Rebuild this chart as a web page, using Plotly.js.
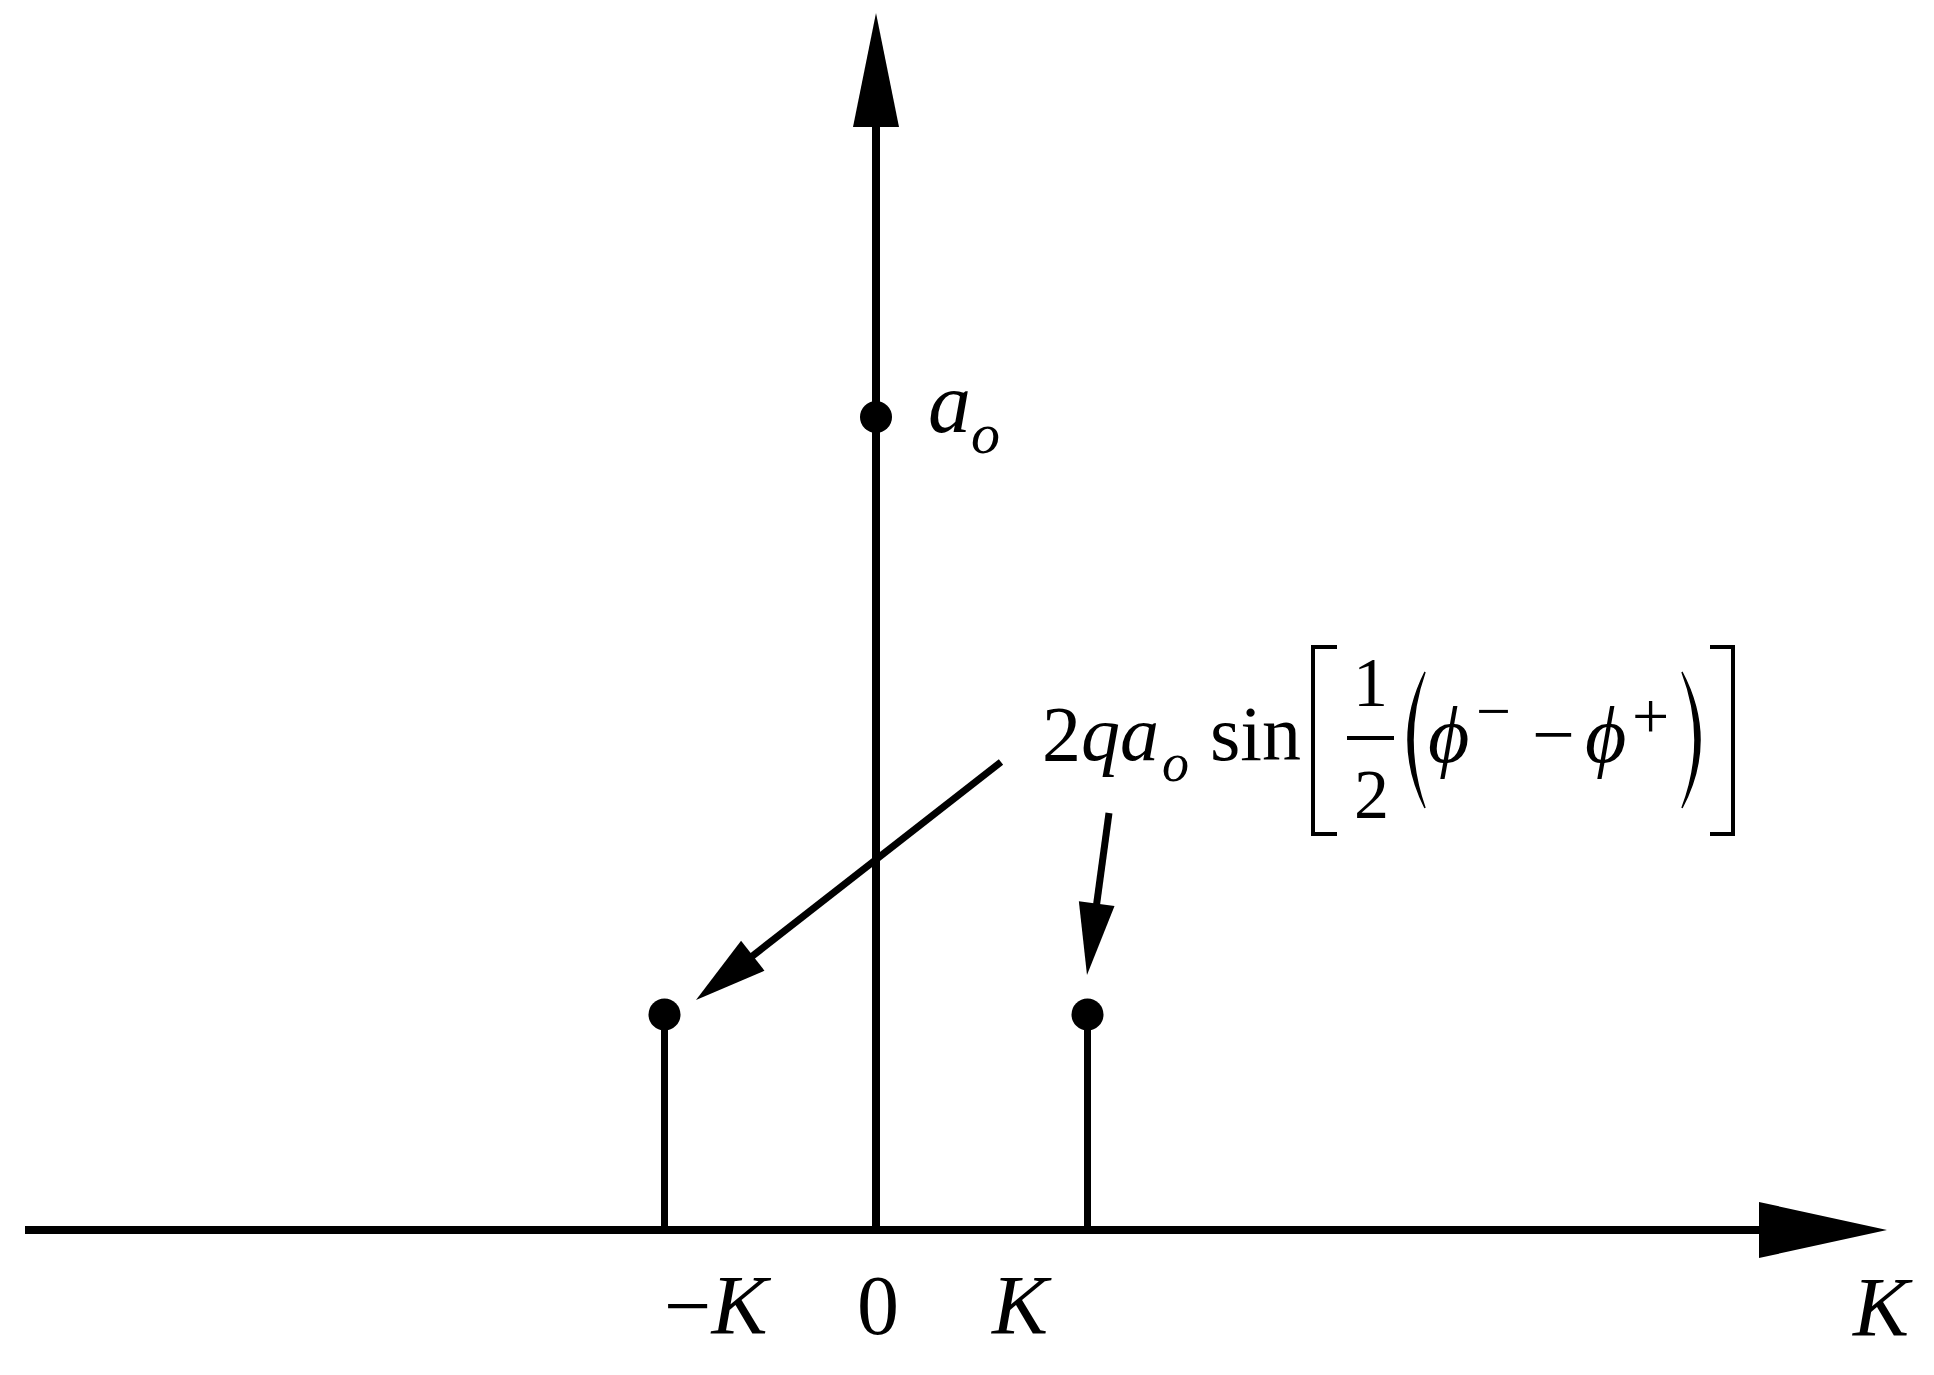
<!DOCTYPE html>
<html>
<head>
<meta charset="utf-8">
<script src="https://cdn.plot.ly/plotly-3.0.1.min.js"></script>
<style>html,body{margin:0;padding:0;background:#fff;}</style>
</head>
<body>
<div id="chart" style="width:1934px;height:1375px;"></div>
<script>
// spectral lines at -K, 0, K (x in units of K, y in units of a_o)
var lineX = [-1, 0, 1];
var lineY = [0.265, 1, 0.265];
var tickText = ['\u2212<i>K</i>', '0', '<i>K</i>'];

// page geometry (pixels)
var W = 1934, H = 1375;
var X0 = 876, UX = 211.5;   // pixel of x=0, pixels per K
var Y0 = 1230, UY = 813;    // pixel of y=0, pixels per a_o
function dx(px) { return (px - X0) / UX; }
function dy(py) { return (Y0 - py) / UY; }
function pt(p) { return dx(p[0]) + ',' + dy(p[1]); }

var FONT = 'Liberation Serif, Times New Roman, DejaVu Serif, serif';
var labelShift = [53, 2, -66];

// stems (skip the centre one, the vertical axis covers it)
var stemX = [], stemY = [];
for (var i = 0; i < lineX.length; i++) {
  if (lineX[i] === 0) continue;
  stemX.push(lineX[i], lineX[i], null);
  stemY.push(0, lineY[i], null);
}

var stems = {
  x: stemX, y: stemY, mode: 'lines', type: 'scatter',
  line: {color: '#000', width: 7}, hoverinfo: 'skip'
};
var dots = {
  x: lineX, y: lineY, mode: 'markers', type: 'scatter',
  marker: {color: '#000', size: 32}, hoverinfo: 'skip'
};

function head(tip, from, len, half) {
  var vx = tip[0] - from[0], vy = tip[1] - from[1];
  var d = Math.sqrt(vx * vx + vy * vy);
  var ux = vx / d, uy = vy / d;
  var bx = tip[0] - ux * len, by = tip[1] - uy * len;
  var a = [bx - uy * half, by + ux * half];
  var b = [bx + uy * half, by - ux * half];
  return {
    type: 'path', xref: 'x', yref: 'y',
    path: 'M' + pt(tip) + 'L' + pt(a) + 'L' + pt(b) + 'Z',
    fillcolor: '#000', line: {width: 0}
  };
}
function seg(p, q, w) {
  return {type: 'line', xref: 'x', yref: 'y',
    x0: dx(p[0]), y0: dy(p[1]), x1: dx(q[0]), y1: dy(q[1]),
    line: {color: '#000', width: w}};
}
// shaft + head, shaft runs into the head
function pointer(from, tip, len, half, w) {
  var vx = tip[0] - from[0], vy = tip[1] - from[1];
  var d = Math.sqrt(vx * vx + vy * vy);
  var end = [tip[0] - vx / d * len * 0.6, tip[1] - vy / d * len * 0.6];
  return [seg(from, end, w), head(tip, from, len, half)];
}
function poly(pts, w) {
  var s = 'M' + pt(pts[0]);
  for (var i = 1; i < pts.length; i++) s += 'L' + pt(pts[i]);
  return {type: 'path', xref: 'x', yref: 'y', path: s, line: {color: '#000', width: w}};
}
function paren(top, bot, cOut, cIn) {
  return {type: 'path', xref: 'x', yref: 'y',
    path: 'M' + pt(top) + 'Q' + pt(cOut) + ' ' + pt(bot) + 'Q' + pt(cIn) + ' ' + pt(top) + 'Z',
    fillcolor: '#000', line: {color: '#000', width: 1.5}};
}

var shapes = [
  // axes
  {type: 'line', xref: 'x', yref: 'y', x0: dx(25), x1: dx(1770), y0: 0, y1: 0, line: {color: '#000', width: 8}},
  {type: 'line', xref: 'x', yref: 'y', x0: 0, x1: 0, y0: 0, y1: dy(115), line: {color: '#000', width: 8}},
  head([1887, 1230], [25, 1230], 128, 28),
  head([876, 13], [876, 1230], 114, 23)
].concat(
  pointer([1001, 762], [696, 1000], 72, 19, 7),
  pointer([1109, 813], [1087, 975], 72, 18, 7),
  [
    // brackets and parentheses
    poly([[1337, 647], [1313, 647], [1313, 834], [1337, 834]], 4),
    poly([[1710, 647], [1733, 647], [1733, 834], [1710, 834]], 4),
    paren([1425, 672], [1425, 808], [1391, 740], [1401, 740]),
    paren([1682, 672], [1682, 808], [1718, 740], [1708, 740]),
    // fraction bar
    seg([1347, 738], [1394, 738], 4)
  ]
);

function txt(text, px, py, size, anchor) {
  return {text: text, xref: 'x', yref: 'y', x: dx(px), y: dy(py - 0.34 * size),
    xanchor: anchor || 'left', yanchor: 'middle', showarrow: false,
    font: {family: FONT, size: size, color: '#000'}};
}

var ann = [];
// tick labels at -K, 0, K
for (var j = 0; j < lineX.length; j++) {
  ann.push({text: tickText[j], xref: 'x', yref: 'y', x: lineX[j], xshift: labelShift[j],
    y: dy(1334 - 0.34 * 84), xanchor: 'center', yanchor: 'middle', showarrow: false,
    font: {family: FONT, size: 84, color: '#000'}});
}
ann.push(txt('<i>K</i>', 1882, 1336, 84, 'center'));
// a_o
ann.push(txt('<i>a</i>', 926, 432, 86));
ann.push(txt('<i>o</i>', 969, 453, 58));
// 2 q a_o sin[ 1/2 (phi- - phi+) ]
ann.push(txt('2<i>qa</i>', 1040, 760, 78));
ann.push(txt('<i>o</i>', 1160, 781, 54));
ann.push(txt('sin', 1208, 760, 78));
ann.push(txt('1', 1370, 706, 70, 'center'));
ann.push(txt('2', 1371, 818, 70, 'center'));
ann.push(txt('<i>\u03d5</i>', 1426, 762, 80));
ann.push(txt('\u2212', 1493, 732, 62, 'center'));
ann.push(txt('\u2212', 1553, 760, 76, 'center'));
ann.push(txt('<i>\u03d5</i>', 1583, 762, 80));
ann.push(txt('+', 1650, 738, 66, 'center'));

var layout = {
  width: W, height: H, autosize: false,
  margin: {l: 0, r: 0, t: 0, b: 0},
  paper_bgcolor: '#fff', plot_bgcolor: '#fff',
  showlegend: false,
  xaxis: {range: [dx(0), dx(W)], visible: false, fixedrange: true},
  yaxis: {range: [dy(H), dy(0)], visible: false, fixedrange: true},
  shapes: shapes,
  annotations: ann
};

Plotly.newPlot('chart', [stems, dots], layout, {displayModeBar: false, staticPlot: true});
</script>
</body>
</html>
